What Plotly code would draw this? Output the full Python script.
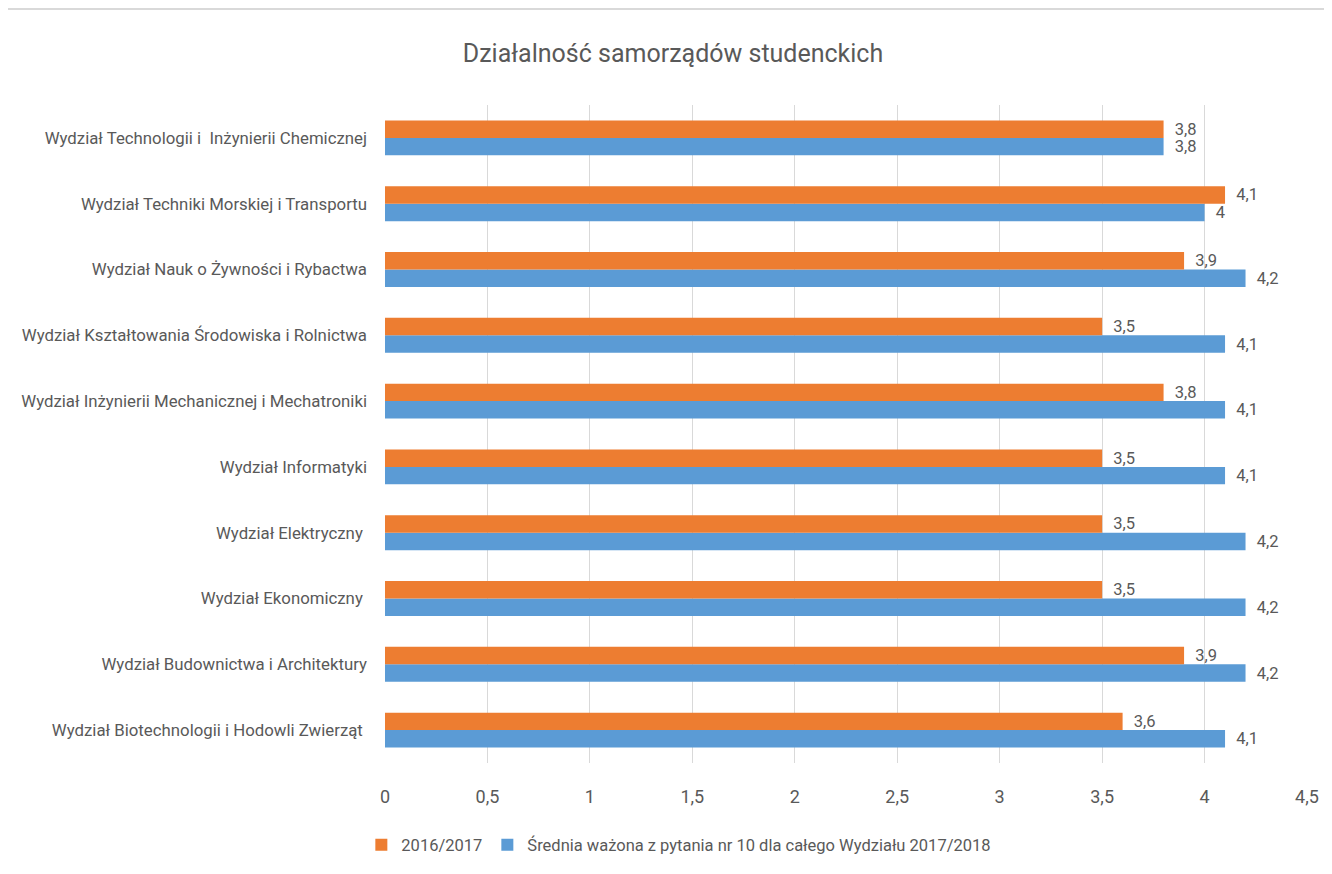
import plotly.graph_objects as go

categories = [
    "Wydział Biotechnologii i Hodowli Zwierząt ",
    "Wydział Budownictwa i Architektury",
    "Wydział Ekonomiczny ",
    "Wydział Elektryczny ",
    "Wydział Informatyki",
    "Wydział Inżynierii Mechanicznej i Mechatroniki",
    "Wydział Kształtowania Środowiska i Rolnictwa",
    "Wydział Nauk o Żywności i Rybactwa",
    "Wydział Techniki Morskiej i Transportu",
    "Wydział Technologii i  Inżynierii Chemicznej",
]
values_2016 = [3.6, 3.9, 3.5, 3.5, 3.5, 3.8, 3.5, 3.9, 4.1, 3.8]
values_2018 = [4.1, 4.2, 4.2, 4.2, 4.1, 4.1, 4.1, 4.2, 4.0, 3.8]
name_2016 = "2016/2017"
name_2018 = "Średnia ważona z pytania nr 10 dla całego Wydziału 2017/2018"
x_ticks = [0, 0.5, 1, 1.5, 2, 2.5, 3, 3.5, 4, 4.5]
x_tick_labels = ["0", "0,5", "1", "1,5", "2", "2,5", "3", "3,5", "4", "4,5"]

FONT = "Roboto, Arial, sans-serif"
GREY = "#595959"

# page offset of 8px (default body margin) compensated in margins
PL, PR, PT, PB = 385, 1307.5, 104.5, 763  # plot box in page pixels
OFF = 8
W, H = 1332, 874
PW, PH = PR - PL, PB - PT

fig = go.Figure()
fig.add_trace(go.Bar(
    y=categories, x=values_2018, orientation="h", name=name_2018,
    marker=dict(color="#5B9BD5", line=dict(width=0)),
    texttemplate="  %{x}", textposition="outside", constraintext="none",
    textfont=dict(size=16.5, color=GREY, family=FONT), cliponaxis=False,
    legendrank=2,
))
fig.add_trace(go.Bar(
    y=categories, x=values_2016, orientation="h", name=name_2016,
    marker=dict(color="#ED7D31", line=dict(width=0)),
    texttemplate="  %{x}", textposition="outside", constraintext="none",
    textfont=dict(size=16.5, color=GREY, family=FONT), cliponaxis=False,
    legendrank=1,
))

fig.update_layout(
    width=W, height=H,
    separators=", ",
    paper_bgcolor="white", plot_bgcolor="white",
    barmode="group", bargap=0.47, bargroupgap=0,
    margin=dict(l=PL - OFF, r=W + OFF - PR, t=PT - OFF, b=H + OFF - PB, autoexpand=False),
    font=dict(family=FONT, color=GREY, size=16),
    title=dict(text="Działalność samorządów studenckich",
               x=(673 - OFF) / W, xanchor="center",
               y=1 - (53 - OFF) / H, yanchor="middle",
               font=dict(size=25, color=GREY, family=FONT)),
    xaxis=dict(range=[0, 4.5], tickvals=x_ticks, ticktext=x_tick_labels,
               showgrid=True, gridcolor="#D9D9D9", gridwidth=1, zeroline=False,
               showline=False, ticks="", ticklabelstandoff=21,
               tickfont=dict(size=18, color=GREY, family=FONT)),
    yaxis=dict(type="category", showgrid=False, showline=False, ticks="",
               ticklabelstandoff=17, tickfont=dict(size=16.8, color=GREY, family=FONT)),
    legend=dict(orientation="h", x=(679 - PL) / PW, xanchor="center",
                y=-(845 - PB) / PH, yanchor="middle",
                font=dict(size=16.5, color=GREY, family=FONT), traceorder="normal"),
    showlegend=True,
)
top_y = 1 + (PT - 8.5) / PH
left_x = (6.5 - PL) / PW
fig.add_shape(type="line", xref="paper", yref="paper",
              x0=left_x, x1=1.2, y0=top_y, y1=top_y,
              line=dict(color="#D9D9D9", width=2))
fig.add_shape(type="line", xref="paper", yref="paper",
              x0=left_x, x1=left_x, y0=top_y, y1=-0.3,
              line=dict(color="#D9D9D9", width=2))

fig.write_html("out.html")
